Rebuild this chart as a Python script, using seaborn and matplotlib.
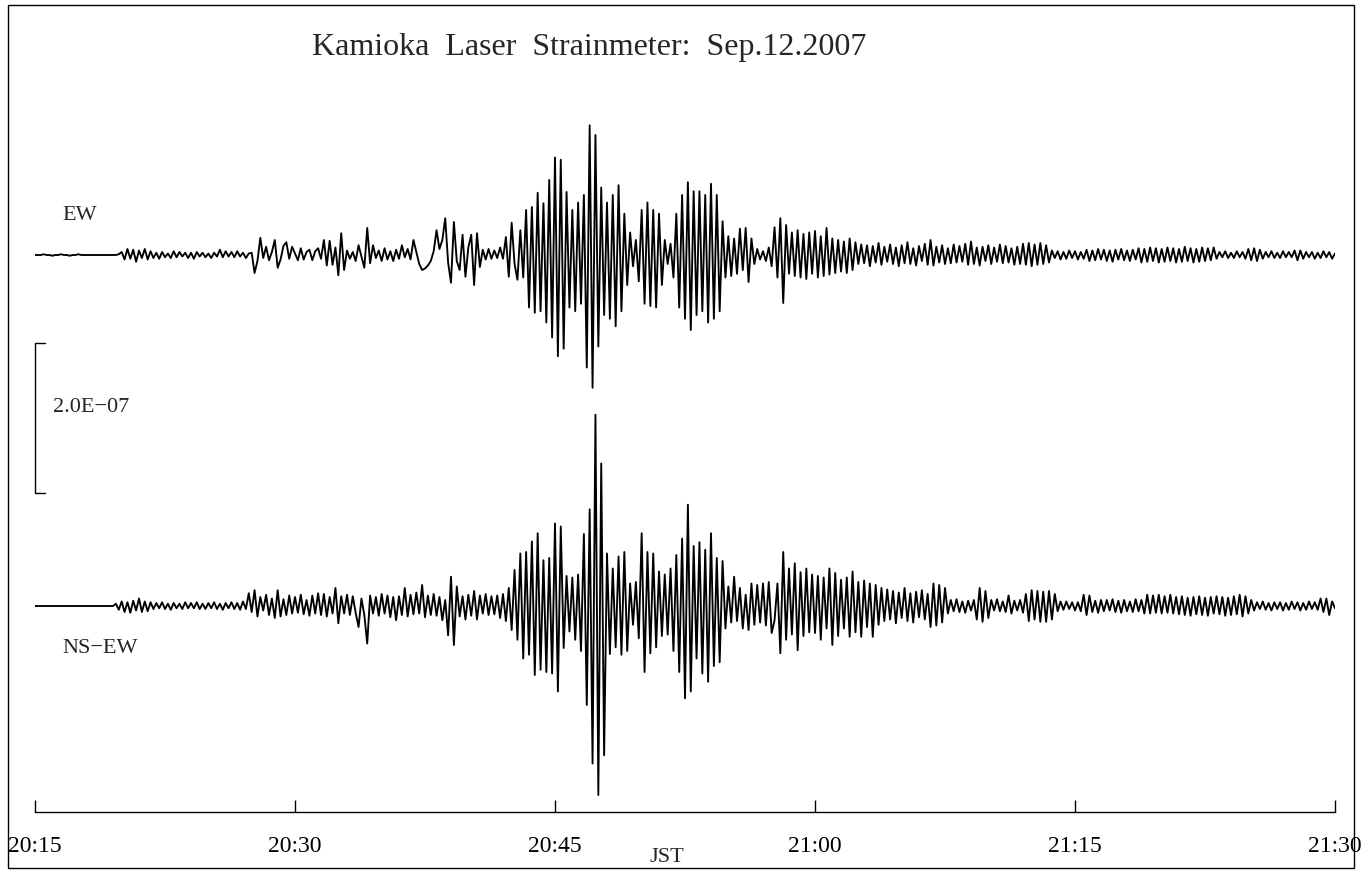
import numpy as np
import pandas as pd
import matplotlib
matplotlib.use("Agg")
import matplotlib.pyplot as plt
from matplotlib.patches import Rectangle
import seaborn as sns

# ---------------------------------------------------------------------------
# Strain records (units: 1e-9 strain), one sample every 10 s from 20:15 JST
# ---------------------------------------------------------------------------
START_MIN = 15.0          # minutes after 20:00
STEP_S = 10.0             # sampling interval in seconds

ew_strain = [
    0, 0, 0, 1, 0, 0, -1, 0, 0, 1,
    0, 0, -1, 0, 0, 1, 0, 0, 0, 0,
    0, 0, 0, 0, 0, 0, 0, 0, 0, 1,
    4, -6, 8, -5, 7, -9, 6, -4, 8, -6,
    5, -4, 3, -5, 4, -3, 2, -4, 5, -3,
    4, -2, 3, -4, 3, -5, 4, -2, 3, -3,
    2, -4, 3, -2, 7, -3, 5, -2, 4, -3,
    5, -2, 3, -4, 2, 3, -24, -8, 23, -4,
    11, -7, 4, 20, -17, -6, 12, 17, -5, 11,
    2, -7, 9, -6, 4, 7, -7, 5, 9, -5,
    20, -14, 19, -13, 10, -27, 29, -20, 6, -5,
    4, -8, 13, -2, -17, 36, -11, 13, -4, 6,
    -8, 9, -6, 5, -8, 7, -5, 13, -3, 8,
    -6, 20, 4, -12, -20, -18, -14, -8, 5, 33,
    8, 20, 49, -10, -37, 44, -8, -20, 27, -29,
    10, 27, -40, 29, -16, 7, -6, 8, -5, 6,
    -4, 10, -5, 24, -29, 43, -12, -33, 33, -30,
    60, -70, 64, -77, 83, -75, 69, -90, 100, -110,
    130, -135, 127, -125, 84, -70, 60, -75, 70, -65,
    80, -150, 173, -177, 160, -122, 90, -80, 70, -85,
    80, -95, 93, -75, 55, -40, 30, -15, 20, -35,
    60, -65, 70, -68, 60, -70, 55, -40, 20, -12,
    15, -30, 55, -70, 80, -85, 97, -100, 85, -80,
    85, -75, 80, -90, 95, -85, 80, -75, 45, -30,
    25, -28, 22, -25, 35, -20, 36, -36, 22, -12,
    8, -6, 5, -8, 10, -15, 37, -30, 49, -64,
    40, -25, 30, -28, 33, -30, 28, -32, 30, -25,
    32, -30, 25, -28, 36, -26, 22, -24, 20, -22,
    18, -24, 22, -20, 17, -12, 14, -11, 13, -15,
    12, -10, 16, -13, 11, -9, 14, -12, 10, -15,
    13, -11, 17, -12, 9, -14, 12, -8, 15, -13,
    20, -14, 11, -10, 13, -12, 9, -11, 14, -10,
    12, -9, 15, -13, 18, -12, 10, -14, 11, -8,
    13, -12, 10, -9, 14, -11, 12, -10, 9, -13,
    11, -12, 15, -13, 16, -15, 14, -13, 16, -12,
    13, -10, 6, -4, 5, -6, 4, -5, 6, -4,
    5, -6, 4, -5, 7, -8, 6, -7, 8, -6,
    7, -8, 6, -9, 7, -6, 8, -7, 6, -8,
    7, -6, 9, -10, 8, -9, 10, -8, 9, -10,
    8, -9, 10, -8, 9, -10, 8, -9, 11, -8,
    9, -10, 8, -9, 10, -8, 9, -7, 10, -5,
    4, -3, 5, -4, 3, -4, 5, -3, 4, -5,
    8, -7, 9, -8, 7, -5, 4, -3, 5, -4,
    3, -4, 5, -3, 4, -3, 6, -7, 6, -5,
    4, -3, 4, -5, 3, -4, 5, -3, 4, -5,
    2,
]

nsew_strain = [
    0, 0, 0, 0, 0, 0, 0, 0, 0, 0,
    0, 0, 0, 0, 0, 0, 0, 0, 0, 0,
    0, 0, 0, 0, 0, 0, 0, 0, 3, -5,
    6, -8, 5, -9, 7, -6, 10, -8, 6, -7,
    5, -4, 4, -3, 5, -4, 3, -5, 4, -3,
    3, -4, 5, -3, 4, -3, 5, -4, 3, -4,
    4, -3, 5, -4, 3, -5, 4, -3, 5, -4,
    4, -5, 6, -4, 17, -8, 21, -14, 12, -6,
    15, -12, 10, -16, 21, -14, 9, -12, 14, -10,
    12, -9, 15, -11, 8, -13, 14, -10, 17, -12,
    16, -14, 12, -10, 24, -23, 13, -10, 15, -12,
    13, -9, -28, 10, -12, -50, 14, -10, 12, -13,
    16, -10, 14, -15, 12, -19, 13, -12, 24, -14,
    15, -11, 18, -10, 28, -15, 14, -12, 16, -13,
    12, -19, 8, -39, 39, -52, 26, -14, 13, -18,
    15, -13, 20, -18, 14, -10, 16, -12, 13, -11,
    14, -16, 16, -20, 24, -32, 48, -45, 70, -70,
    72, -65, 86, -92, 97, -85, 61, -88, 64, -90,
    110, -114, 106, -56, 40, -34, 38, -45, 42, -60,
    96, -132, 129, -210, 255, -252, 190, -199, 70, -64,
    50, -55, 66, -65, 72, -60, 30, -25, 32, -43,
    97, -88, 72, -63, 70, -55, 46, -40, 42, -38,
    50, -60, 68, -88, 90, -123, 135, -114, 80, -70,
    85, -90, 75, -101, 97, -80, 64, -75, 60, -30,
    26, -22, 39, -20, 24, -30, 15, -32, 30, -25,
    28, -22, 30, -26, 32, -36, -19, 30, -63, 72,
    -45, 50, -38, 57, -59, 45, -40, 50, -35, 42,
    -36, 40, -45, 38, -30, 50, -52, 44, -40, 35,
    -30, 38, -41, 46, -35, 32, -41, 34, -28, 30,
    -41, 28, -25, 24, -20, 22, -18, 20, -23, 18,
    -16, 24, -20, 17, -22, 19, -15, 21, -18, 16,
    -28, 30, -26, 28, -22, 24, -10, 8, -7, 9,
    -8, 6, -9, 7, -6, 8, -18, 24, -21, 20,
    -16, 8, -6, 9, -7, 6, -8, 14, -10, 7,
    -6, 8, -9, 16, -20, 21, -18, 20, -21, 19,
    -21, 20, -18, 16, -7, 6, -5, 6, -4, 5,
    -6, 5, -7, 15, -12, 14, -8, 7, -9, 8,
    -7, 8, -6, 9, -8, 7, -9, 8, -7, 6,
    -8, 9, -7, 8, -10, 15, -10, 14, -9, 15,
    -10, 13, -9, 15, -10, 12, -11, 13, -12, 11,
    -13, 12, -11, 13, -12, 11, -13, 12, -10, 13,
    -11, 12, -13, 11, -12, 13, -11, 15, -14, 13,
    -10, 8, -6, 5, -4, 6, -5, 4, -6, 5,
    -4, 5, -6, 4, -5, 6, -4, 5, -6, 4,
    -5, 6, -4, 5, -5, 10, -8, 10, -12, 6,
    -3,
]

TRACE_NAMES = ["EW", "NS\u2212EW"]
TICK_MINUTES = [15, 30, 45, 60, 75, 90]
TICK_LABELS = ["20:15", "20:30", "20:45", "21:00", "21:15", "21:30"]
SCALE_BAR = 200            # 2.0E-07 strain
SCALE_LABEL = "2.0E\u221207"
TITLE = "Kamioka  Laser  Strainmeter:  Sep.12.2007"
TIME_LABEL = "JST"

# vertical placement of the two traces (same units as the data)
EW_OFFSET = 468
NSEW_OFFSET = 0

# ---------------------------------------------------------------------------
sns.set_style("white")
plt.rcParams["font.family"] = ["Liberation Serif", "DejaVu Serif"]

W, H = 1361, 873
fig = plt.figure(figsize=(W / 100, H / 100), dpi=100)
ax = fig.add_axes([35 / W, (H - 812) / H, 1300 / W, 812 / H])


def trace_frame(values, offset):
    vals = np.asarray(values, dtype=float)
    minutes = START_MIN + np.arange(len(vals)) * STEP_S / 60.0
    return pd.DataFrame({"minute": minutes, "strain": vals + offset})


for values, offset in [(ew_strain, EW_OFFSET), (nsew_strain, NSEW_OFFSET)]:
    sns.lineplot(data=trace_frame(values, offset), x="minute", y="strain",
                 ax=ax, color="black", linewidth=1.35, estimator=None,
                 sort=False)

ax.set_xlim(TICK_MINUTES[0], TICK_MINUTES[-1])
ax.set_ylim(-274.67, 808)
ax.set_xticks(TICK_MINUTES)
ax.set_xticklabels(TICK_LABELS)
ax.set_yticks([])
ax.set_xlabel("")
ax.set_ylabel("")
sns.despine(ax=ax, left=True, top=True, right=True, bottom=False)
ax.spines["bottom"].set_color("black")
ax.spines["bottom"].set_linewidth(1.0)
ax.tick_params(axis="x", bottom=True, direction="in", length=9, width=1.0,
               pad=17, labelsize=17, colors="black")

# scale bar for 2.0E-07 strain
bar_lo, bar_hi = 150, 150 + SCALE_BAR
x0 = TICK_MINUTES[0]
ax.plot([x0 + 0.58, x0, x0, x0 + 0.58], [bar_hi, bar_hi, bar_lo, bar_lo],
        color="black", lw=1.0, clip_on=False)
ax.text(x0 + 1.04, 264, SCALE_LABEL, fontsize=16, ha="left", va="center")

# channel names
ax.text(16.56, 520, TRACE_NAMES[0], fontsize=16, ha="left", va="center")
ax.text(16.56, -57, TRACE_NAMES[1], fontsize=16, ha="left", va="center")

fig.text(589 / W, 1 - 47 / H, TITLE, fontsize=23, ha="center", va="center")
fig.text(667 / W, 1 - 857 / H, TIME_LABEL, fontsize=16, ha="center",
         va="center")

# outer frame
fig.patches.append(Rectangle((8 / W, 5 / H), (1354 - 8) / W, (868 - 5) / H,
                             transform=fig.transFigure, fill=False,
                             lw=1.0, ec="black"))

fig.savefig("out.png", dpi=100)
